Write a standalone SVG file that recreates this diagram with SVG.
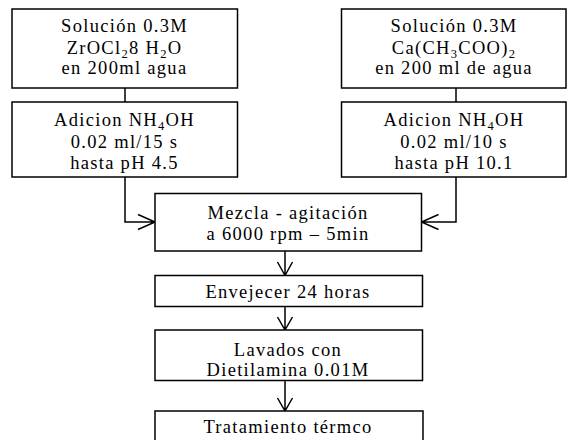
<svg xmlns="http://www.w3.org/2000/svg" width="567" height="440" viewBox="0 0 567 440">
<style>
rect{fill:#fff;stroke:#000;stroke-width:1.5}
text{font-family:"Liberation Serif","Times New Roman",serif;font-size:18.5px;fill:#000;text-anchor:middle;letter-spacing:1.3px}
.sub{font-size:12.5px}
#connectors path{fill:none;stroke:#000;stroke-width:1.5}
</style>
<rect x="0" y="0" width="567" height="440" style="stroke:none;fill:#fff"/>
<g id="connectors">
<path d="M125 88V102M456 88V102"/>
<path d="M125 177V222H155M138 214.5L155 222L138 229.5"/>
<path d="M456 177V222H421.5M438.5 214.5L421.5 222L438.5 229.5"/>
<path d="M285 251V275.5M277.5 262L285 275.5L292.5 262"/>
<path d="M285 306.5V330M277.5 317L285 330L292.5 317"/>
<path d="M285 380.5V411M277.5 398L285 411L292.5 398"/>
</g>
<g id="sol1">
<rect x="12" y="9" width="225.5" height="79"/>
<text x="124.5" y="32">Solución 0.3M</text>
<text x="124.5" y="54">ZrOCl<tspan class="sub" dy="4">2</tspan><tspan dy="-4">8 H</tspan><tspan class="sub" dy="4">2</tspan><tspan dy="-4">O</tspan></text>
<text x="124.5" y="74">en 200ml agua</text>
</g>
<g id="nh4oh1">
<rect x="12" y="102" width="225.5" height="75"/>
<text x="124.5" y="126">Adicion NH<tspan class="sub" dy="4">4</tspan><tspan dy="-4">OH</tspan></text>
<text x="124.5" y="148">0.02 ml/15 s</text>
<text x="124.5" y="169">hasta pH 4.5</text>
</g>
<g id="sol2">
<rect x="341.5" y="9" width="224.5" height="79"/>
<text x="454" y="32">Solución 0.3M</text>
<text x="454" y="53.5">Ca(CH<tspan class="sub" dy="4">3</tspan><tspan dy="-4">COO)</tspan><tspan class="sub" dy="4">2</tspan></text>
<text x="454" y="74">en 200 ml de agua</text>
</g>
<g id="nh4oh2">
<rect x="341.5" y="102" width="224.5" height="75"/>
<text x="454" y="126">Adicion  NH<tspan class="sub" dy="4">4</tspan><tspan dy="-4">OH</tspan></text>
<text x="454" y="148">0.02 ml/10 s</text>
<text x="454" y="168.5">hasta pH 10.1</text>
</g>
<g id="mezcla">
<rect x="155" y="193.5" width="266.5" height="57.5"/>
<text x="288" y="219">Mezcla - agitación</text>
<text x="288" y="240">a 6000 rpm – 5min</text>
</g>
<g id="envejecer">
<rect x="155" y="275.5" width="267.5" height="31"/>
<text x="288" y="298">Envejecer 24 horas</text>
</g>
<g id="lavados">
<rect x="155" y="330" width="267.5" height="50.5"/>
<text x="288" y="355.5">Lavados con</text>
<text x="288" y="376">Dietilamina 0.01M</text>
</g>
<g id="tratamiento">
<rect x="155" y="411" width="268" height="40"/>
<text x="288" y="433">Tratamiento térmco</text>
</g>
</svg>
